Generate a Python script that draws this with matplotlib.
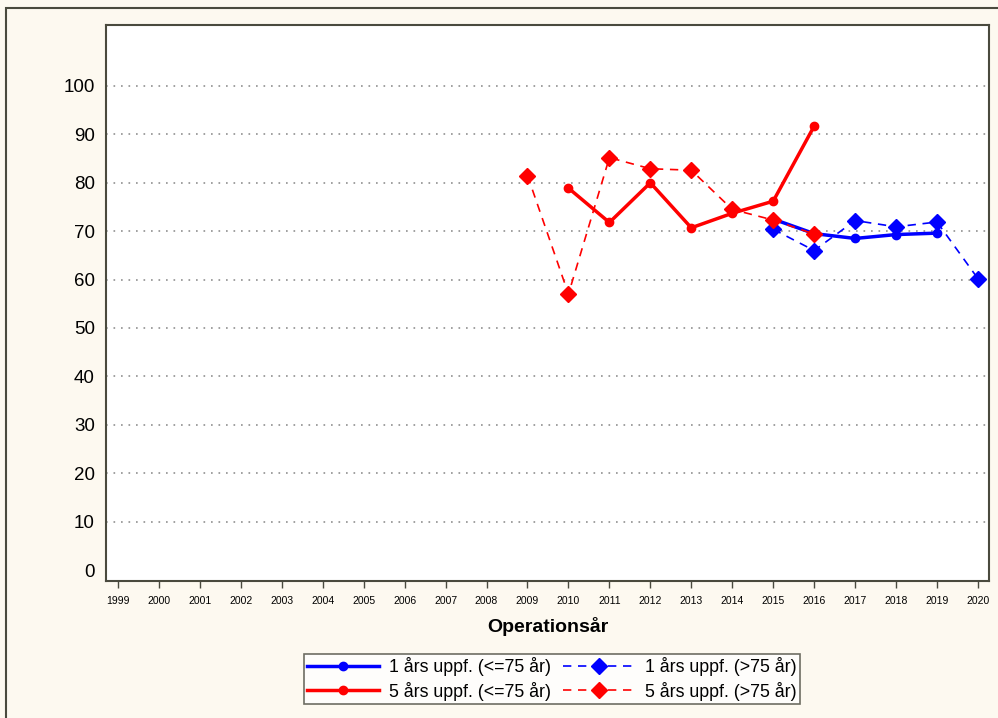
import matplotlib
matplotlib.use("Agg")
import matplotlib.pyplot as plt
from matplotlib.patches import Rectangle

plt.rcParams['font.family'] = ['Liberation Sans', 'DejaVu Sans']

years = list(range(1999, 2021))

yrs_1_le75 = [2015, 2016, 2017, 2018, 2019]
val_1_le75 = [72.5, 69.5, 68.5, 69.3, 69.6]

yrs_1_gt75 = [2015, 2016, 2017, 2018, 2019, 2020]
val_1_gt75 = [70.4, 66.0, 72.2, 70.9, 71.9, 60.2]

yrs_5_le75 = [2010, 2011, 2012, 2013, 2014, 2015, 2016]
val_5_le75 = [78.9, 71.8, 80.0, 70.7, 73.7, 76.2, 91.7]

yrs_5_gt75 = [2009, 2010, 2011, 2012, 2013, 2014, 2015, 2016]
val_5_gt75 = [81.5, 57.0, 85.2, 82.9, 82.6, 74.5, 72.3, 69.4]

labels = ["1 års uppf. (<=75 år)", "1 års uppf. (>75 år)",
          "5 års uppf. (<=75 år)", "5 års uppf. (>75 år)"]

bg = "#fdf9f0"
fig = plt.figure(figsize=(9.98, 7.18), dpi=100, facecolor=bg)
fig.patches.append(Rectangle((6/998, -0.1), 1.2, 1 - 8/718 + 0.1, transform=fig.transFigure,
                             fill=False, edgecolor="#4a4a3e", linewidth=1.5, zorder=0))
ax = fig.add_axes([106/998, 1 - 581/718, (989 - 106)/998, (581 - 24.5)/718])
ax.set_facecolor("white")

ax.plot(yrs_1_le75, val_1_le75, color="#0000ff", lw=2.5, marker="o", ms=6, label=labels[0], zorder=3)
ax.plot(yrs_5_le75, val_5_le75, color="#ff0000", lw=2.5, marker="o", ms=6, label=labels[2], zorder=3)
ax.plot(yrs_1_gt75, val_1_gt75, color="#0000ff", lw=1.2, ls=(0, (5, 4)), marker="D", ms=8, label=labels[1], zorder=4)
ax.plot(yrs_5_gt75, val_5_gt75, color="#ff0000", lw=1.2, ls=(0, (5, 4)), marker="D", ms=8, label=labels[3], zorder=4)

ax.set_xlim(1998.707, 2020.27)
ax.set_ylim(-2.27, 112.7)
ax.set_xticks(years)
ax.set_xticklabels([str(y) for y in years], fontsize=7.5)
ax.set_yticks(range(0, 101, 10))
ax.tick_params(axis="y", length=0, labelsize=13.5, pad=8)
ax.tick_params(axis="x", length=5, width=1, color="#4a4a3e", pad=6)
for y in range(10, 101, 10):
    ax.axhline(y, color="#909090", lw=1.2, ls=(0, (1, 3.5)), zorder=1)
for s in ax.spines.values():
    s.set_color("#4a4a3e")
    s.set_linewidth(1.5)
ax.set_xlabel("Operationsår", fontsize=14, fontweight="bold", labelpad=8)

h, l = ax.get_legend_handles_labels()
leg = fig.legend(h, l, ncol=2, loc="center", bbox_to_anchor=(552/998, 1 - 679/718),
                 fontsize=12.8, frameon=True, fancybox=False, edgecolor="#4a4a3e",
                 handlelength=4.05, columnspacing=0.67, handletextpad=0.56,
                 borderpad=0.2, labelspacing=0.3, borderaxespad=0)
leg.get_frame().set_linewidth(1.2)
leg.get_frame().set_facecolor("white")

fig.savefig("out.png", dpi=100, facecolor=bg)
